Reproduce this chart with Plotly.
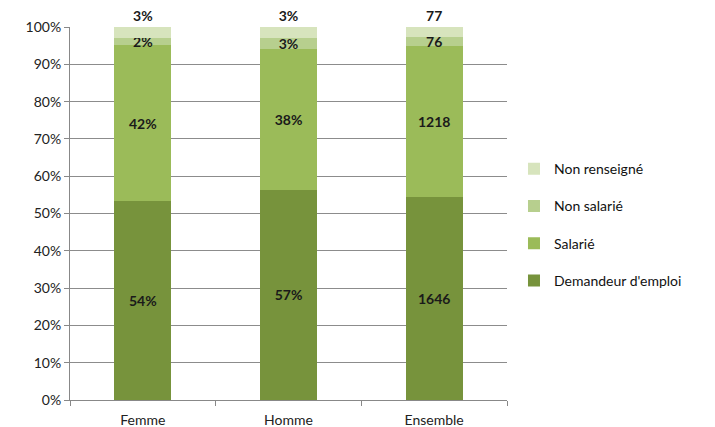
import plotly.graph_objects as go

categories = ['Femme', 'Homme', 'Ensemble']

# values per series (percent for Femme/Homme, counts for Ensemble)
demandeur = [54, 57, 1646]
salarie = [42, 38, 1218]
non_salarie = [2, 3, 76]
non_renseigne = [3, 3, 77]

labels_demandeur = ['54%', '57%', '1646']
labels_salarie = ['42%', '38%', '1218']
labels_non_salarie = ['2%', '3%', '76']
labels_non_renseigne = ['3%', '3%', '77']

series = [
    ("Demandeur d'emploi", demandeur, labels_demandeur, '#77933C', 'inside', 4),
    ('Salarié', salarie, labels_salarie, '#9BBB59', 'inside', 3),
    ('Non salarié', non_salarie, labels_non_salarie, '#B7CF8E', 'inside', 2),
    ('Non renseigné', non_renseigne, labels_non_renseigne, '#D7E4BD', 'outside', 1),
]

font = 'Lato, Open Sans, sans-serif'

fig = go.Figure()
for name, vals, labels, color, pos, rank in series:
    fig.add_trace(go.Bar(
        x=categories,
        y=vals,
        name=name,
        legendgroup=name,
        legendrank=rank,
        marker=dict(color=color, line=dict(width=0)),
        text=['<b>%s</b>' % t for t in labels],
        textposition=pos,
        textangle=0,
        insidetextanchor='middle',
        textfont=dict(size=14, color='#1a1a1a', family=font),
        cliponaxis=False,
        constraintext='none',
    ))

# margins account for the 8px offset of the page body
fig.update_layout(
    width=715,
    height=427,
    barmode='stack',
    barnorm='percent',
    bargap=0.608,
    plot_bgcolor='white',
    paper_bgcolor='white',
    margin=dict(l=62, r=216, t=19, b=35, autoexpand=False),
    font=dict(family=font, size=14, color='#222222'),
    uniformtext=dict(minsize=14, mode='show'),
    legend=dict(
        x=1.016, xanchor='left', y=0.47, yanchor='middle',
        traceorder='grouped',
        font=dict(size=14, color='#111111'),
        tracegroupgap=16,
        itemwidth=30,
    ),
    xaxis=dict(
        showline=True, linecolor='#888888', linewidth=1,
        ticks='outside', tickson='boundaries', ticklen=5, tickcolor='#888888',
        tickfont=dict(size=14, color='#222222'),
        ticklabelstandoff=7,
        showgrid=False,
        automargin=False,
    ),
    yaxis=dict(
        range=[0, 100], dtick=10, ticksuffix='%',
        showgrid=True, gridcolor='#8c8c8c', gridwidth=1,
        showline=True, linecolor='#888888', linewidth=1,
        ticks='outside', ticklen=5, tickcolor='#888888',
        tickfont=dict(size=14, color='#222222'),
        zeroline=False,
        automargin=False,
    ),
)

fig.write_html('out.html')
